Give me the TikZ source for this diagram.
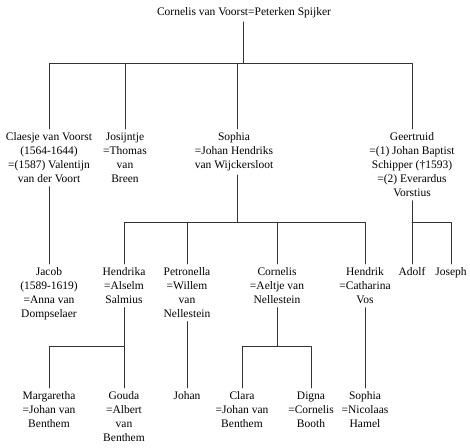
\documentclass[tikz,border=0pt]{standalone}
\usepackage{fontspec}
\setmainfont{Liberation Serif}
\begin{document}
\begin{tikzpicture}[
  x=1pt,
  y=-1pt,
  line join=round,
  line cap=round,
  person/.style={anchor=north,align=center,inner xsep=1pt,inner ysep=3.5pt,
    font=\fontsize{11.5}{14}\selectfont},
  link/.style={draw=black!80,line width=0.55pt}
]
  \useasboundingbox (0,0) rectangle (470,447);

  % Parents.
  \node[person] (root) at (244,4) {Cornelis van Voorst=Peterken Spijker};

  % Children.
  \node[person] (claesje) at (49,129) {Claesje van Voorst\\(1564-1644)\\=(1587) Valentijn\\van der Voort};
  \node[person] (josijntje) at (125,129) {Josijntje\\=Thomas\\van\\Breen};
  \node[person] (sophia) at (234,129) {Sophia\\=Johan Hendriks\\van Wijckersloot};
  \node[person] (geertruid) at (412,129) {Geertruid\\=(1) Johan Baptist\\Schipper (†1593)\\=(2) Everardus\\Vorstius};

  % Grandchildren.
  \node[person] (jacob) at (49,264) {Jacob\\(1589-1619)\\=Anna van\\Dompselaer};
  \node[person] (hendrika) at (124,264) {Hendrika\\=Alselm\\Salmius};
  \node[person] (petronella) at (187,264) {Petronella\\=Willem\\van\\Nellestein};
  \node[person] (cornelis) at (277,264) {Cornelis\\=Aeltje van\\Nellestein};
  \node[person] (hendrik) at (365,264) {Hendrik\\=Catharina\\Vos};
  \node[person] (adolf) at (412,264) {Adolf};
  \node[person] (joseph) at (451,264) {Joseph};

  % Great-grandchildren.
  \node[person] (margaretha) at (49,388) {Margaretha\\=Johan van\\Benthem};
  \node[person] (gouda) at (124,388) {Gouda\\=Albert\\van\\Benthem};
  \node[person] (johan) at (187,388) {Johan};
  \node[person] (clara) at (242,388) {Clara\\=Johan van\\Benthem};
  \node[person] (digna) at (311,388) {Digna\\=Cornelis\\Booth};
  \node[person] (sophiab) at (365,388) {Sophia\\=Nicolaas\\Hamel};

  % Bar points.
  \coordinate (rootbar) at (243,63);
  \coordinate (sophiabar) at (237,222);
  \coordinate (geertruidbar) at (412,222);
  \coordinate (hendrikabar) at (124,346);
  \coordinate (cornelisbar) at (277,346);

  % First generation.
  \draw[link] (root.south -| rootbar) -- (rootbar);
  \foreach \c in {claesje,josijntje,geertruid} {
    \draw[link] (\c.north) |- (rootbar);
  }
  \draw[link] (sophia.north -| sophiabar) |- (rootbar);

  % Second generation.
  \draw[link] (claesje.south) -- (jacob.north);
  \draw[link] (sophia.south -| sophiabar) -- (sophiabar);
  \foreach \c in {hendrika,petronella,cornelis,hendrik} {
    \draw[link] (\c.north) |- (sophiabar);
  }
  \draw[link] (geertruid.south) -- (geertruidbar);
  \foreach \c in {adolf,joseph} {
    \draw[link] (\c.north) |- (geertruidbar);
  }

  % Third generation.
  \draw[link] (hendrika.south) -- (hendrikabar);
  \foreach \c in {margaretha,gouda} {
    \draw[link] (\c.north) |- (hendrikabar);
  }
  \draw[link] (petronella.south) -- (johan.north);
  \draw[link] (cornelis.south) -- (cornelisbar);
  \foreach \c in {clara,digna} {
    \draw[link] (\c.north) |- (cornelisbar);
  }
  \draw[link] (hendrik.south) -- (sophiab.north);
\end{tikzpicture}
\end{document}
